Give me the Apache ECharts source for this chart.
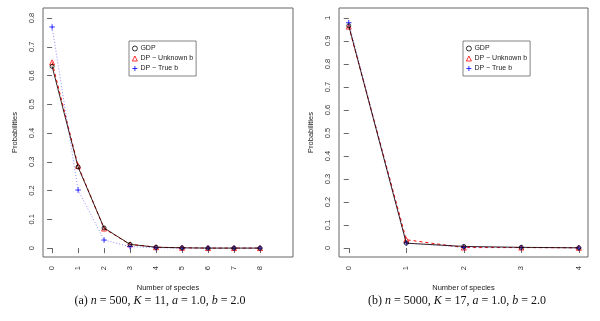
<!DOCTYPE html>
<html><head><meta charset="utf-8">
<script src="https://cdn.jsdelivr.net/npm/echarts@6/dist/echarts.min.js"></script>
<style>html,body{margin:0;padding:0;background:#fff}#c{width:600px;height:321px}</style>
</head><body><div id="c"></div>
<script>
// Panel (a)
const speciesA = [0, 1, 2, 3, 4, 5, 6, 7, 8];
const gdpA = [0.632, 0.282, 0.070, 0.013, 0.003, 0.001, 0.000, 0.000, 0.000];
const dpUnknownA = [0.646, 0.286, 0.068, 0.013, 0.003, 0.001, 0.000, 0.000, 0.000];
const dpTrueA = [0.769, 0.202, 0.028, 0.005, 0.001, 0.000, 0.000, 0.000, 0.000];
const yTicksA = [0, 0.1, 0.2, 0.3, 0.4, 0.5, 0.6, 0.7, 0.8];
const yTickLabelsA = ['0', '0.1', '0.2', '0.3', '0.4', '0.5', '0.6', '0.7', '0.8'];
// Panel (b)
const speciesB = [0, 1, 2, 3, 4];
const gdpB = [0.966, 0.021, 0.007, 0.003, 0.001];
const dpUnknownB = [0.962, 0.036, 0.002, 0.002, 0.001];
const dpTrueB = [0.979, 0.022, 0.003, 0.002, 0.000];
const yTicksB = [0, 0.1, 0.2, 0.3, 0.4, 0.5, 0.6, 0.7, 0.8, 0.9, 1];
const yTickLabelsB = ['0', '0.1', '0.2', '0.3', '0.4', '0.5', '0.6', '0.7', '0.8', '0.9', '1'];

const seriesNames = ['GDP', 'DP \u2212 Unknown b', 'DP \u2212 True b'];
const captionA = '(a) {i|n} = 500, {i|K} = 11, {i|a} = 1.0, {i|b} = 2.0';
const captionB = '(b) {i|n} = 5000, {i|K} = 17, {i|a} = 1.0, {i|b} = 2.0';

const plusPath = 'path://M0,5L10,5M5,0L5,10';
const sans = 'Liberation Sans';
const chart = echarts.init(document.getElementById('c'), null, {renderer: 'canvas'});

function pairs(xs, ys) { return xs.map((x, i) => [x, ys[i]]); }

// order: red (bottom), blue, black (top)
const styles = [
  {symbol: 'circle', size: 4, color: '#000', z: 6, line: {color: '#1a0000', width: 1, type: 'solid'}},
  {symbol: 'triangle', size: 5, color: '#ff0000', z: 4, line: {color: '#ff0000', width: 1, type: [3, 3]}},
  {symbol: plusPath, size: 5.5, color: '#0000ff', z: 5, line: {color: '#7070ff', width: 0.8, type: [1, 2]}}
];

function makeSeries(idx, xs, datasets) {
  return datasets.map((d, k) => ({
    type: 'line', name: seriesNames[k], xAxisIndex: idx, yAxisIndex: idx,
    data: pairs(xs, d), symbol: styles[k].symbol, symbolSize: styles[k].size,
    showAllSymbol: true, animation: false, z: styles[k].z,
    itemStyle: {color: 'rgba(0,0,0,0)', borderColor: styles[k].color, borderWidth: 0.8},
    lineStyle: Object.assign({opacity: k === 0 ? 0.85 : 1}, styles[k].line)
  }));
}

function xAxis(idx, min, max, ticks) {
  return {
    type: 'value', gridIndex: idx, min: min, max: max,
    axisLine: {show: false}, splitLine: {show: false},
    axisTick: {show: true, length: 5, lineStyle: {color: '#666'}, customValues: ticks},
    axisLabel: {show: true, rotate: 90, margin: 9, fontSize: 7.5, fontFamily: sans, color: '#333',
      customValues: ticks, formatter: v => String(v)},
    name: 'Number of species', nameLocation: 'middle', nameGap: 27,
    nameTextStyle: {fontSize: 7.5, fontFamily: sans, color: '#222'}
  };
}
function yAxis(idx, min, max, ticks, labels) {
  return {
    type: 'value', gridIndex: idx, min: min, max: max,
    axisLine: {show: false}, splitLine: {show: false},
    axisTick: {show: true, length: 5, lineStyle: {color: '#666'}, customValues: ticks},
    axisLabel: {show: true, rotate: 90, margin: 7, fontSize: 7.5, fontFamily: sans, color: '#333',
      customValues: ticks, formatter: v => { const i = ticks.indexOf(+(+v).toFixed(3)); return i >= 0 ? labels[i] : String(v); }},
    name: 'Probabilities', nameLocation: 'middle', nameGap: 24,
    nameTextStyle: {fontSize: 7.5, fontFamily: sans, color: '#222'}
  };
}
function legendAt(left, top) {
  return {
    left: left, top: top, orient: 'vertical', itemGap: 3, itemWidth: 5, itemHeight: 5,
    padding: [4, 3, 4, 3], borderColor: '#666', borderWidth: 0.8, backgroundColor: '#fff',
    textStyle: {fontSize: 7, fontFamily: sans, color: '#222', padding: [0, 0, 0, -2]},
    selectedMode: false,
    data: [
      {name: seriesNames[0], icon: 'circle', itemStyle: {color: 'rgba(0,0,0,0)', borderColor: '#000', borderWidth: 0.8}},
      {name: seriesNames[1], icon: 'triangle', itemStyle: {color: 'rgba(0,0,0,0)', borderColor: '#ff0000', borderWidth: 0.8}},
      {name: seriesNames[2], icon: plusPath, itemStyle: {color: 'rgba(0,0,0,0)', borderColor: '#0000ff', borderWidth: 0.8}}
    ]
  };
}

const capStyle = {fontSize: 12, fontWeight: 'normal', fontFamily: 'Liberation Serif', color: '#111',
  rich: {i: {fontSize: 12, fontStyle: 'italic', fontFamily: 'Liberation Serif', color: '#111'}}};

chart.setOption({
  animation: false,
  grid: [
    {left: 43, top: 8, width: 250, height: 249, show: true, borderColor: '#666', borderWidth: 1, backgroundColor: 'transparent'},
    {left: 339, top: 8, width: 249, height: 249, show: true, borderColor: '#666', borderWidth: 1, backgroundColor: 'transparent'}
  ],
  xAxis: [xAxis(0, -0.35, 9.27, speciesA), xAxis(1, -0.17, 4.16, speciesB)],
  yAxis: [yAxis(0, -0.031, 0.835, yTicksA, yTickLabelsA), yAxis(1, -0.039, 1.043, yTicksB, yTickLabelsB)],
  legend: [legendAt(129, 41), legendAt(463, 41)],
  title: [
    {text: captionA, left: 155, top: 290, textAlign: 'center', textStyle: capStyle},
    {text: captionB, left: 452, top: 290, textAlign: 'center', textStyle: capStyle}
  ],
  series: [].concat(
    makeSeries(0, speciesA, [gdpA, dpUnknownA, dpTrueA]),
    makeSeries(1, speciesB, [gdpB, dpUnknownB, dpTrueB])
  )
});
</script></body></html>
